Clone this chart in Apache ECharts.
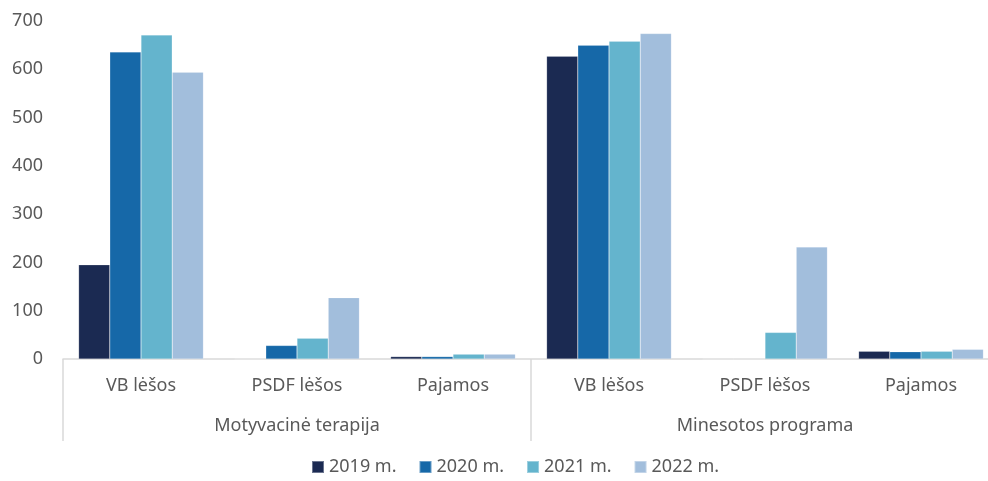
<!DOCTYPE html>
<html>
<head>
<meta charset="utf-8">
<script src="https://cdn.jsdelivr.net/npm/echarts@6/dist/echarts.min.js"></script>
<style>html,body{margin:0;padding:0;background:#fff;overflow:hidden}#c{width:1000px;height:481px}</style>
</head>
<body>
<div id="c"></div>
<script>
const subCategories = ['VB lėšos', 'PSDF lėšos', 'Pajamos', 'VB lėšos', 'PSDF lėšos', 'Pajamos'];
const groups = ['Motyvacinė terapija', 'Minesotos programa'];
const seriesNames = ['2019 m.', '2020 m.', '2021 m.', '2022 m.'];
const v2019 = [195, 0, 5, 627, 0, 16];
const v2020 = [636, 28, 5, 650, 0, 15];
const v2021 = [671, 43, 10, 658, 55, 16];
const v2022 = [594, 127, 10, 674, 232, 20];
const yTicks = [0, 100, 200, 300, 400, 500, 600, 700];

const colors = ['#1b2a52', '#1668a8', '#64b4cd', '#a2bedc'];
const txt = '#595959';
const font = '"Noto Sans", "Open Sans", sans-serif';
const allValues = [v2019, v2020, v2021, v2022];

const chart = echarts.init(document.getElementById('c'), null, {renderer: 'canvas'});
chart.setOption({
  animation: false,
  color: colors,
  textStyle: {fontFamily: font},
  grid: {left: 63, top: 21, width: 936, bottom: 122, containLabel: false},
  legend: {
    bottom: 0,
    left: 306,
    itemWidth: 12, itemHeight: 12, itemGap: 22,
    icon: 'rect',
    textStyle: {color: txt, fontSize: 18, fontFamily: font},
    data: seriesNames
  },
  xAxis: [
    {
      type: 'category',
      data: subCategories,
      axisLine: {show: true, lineStyle: {color: '#d9d9d9', width: 1.5}},
      axisTick: {show: false},
      axisLabel: {color: txt, fontSize: 18, margin: 18, fontFamily: font, interval: 0}
    },
    {
      type: 'category',
      position: 'bottom',
      data: groups,
      axisLine: {show: false},
      axisTick: {show: true, length: 82, lineStyle: {color: '#d9d9d9', width: 1.5}},
      axisLabel: {color: txt, fontSize: 18, margin: 58, fontFamily: font, interval: 0}
    }
  ],
  yAxis: {
    type: 'value',
    min: yTicks[0],
    max: yTicks[yTicks.length - 1],
    interval: 100,
    splitLine: {show: false},
    axisLine: {show: false},
    axisTick: {show: false},
    axisLabel: {color: txt, fontSize: 18, margin: 20, fontFamily: font}
  },
  series: seriesNames.map((n, i) => ({
    name: n,
    type: 'bar',
    xAxisIndex: 0,
    data: allValues[i],
    barGap: '0%',
    barCategoryGap: '20%',
    itemStyle: {borderColor: 'rgba(255,255,255,0.35)', borderWidth: 0.5}
  }))
});
</script>
</body>
</html>
